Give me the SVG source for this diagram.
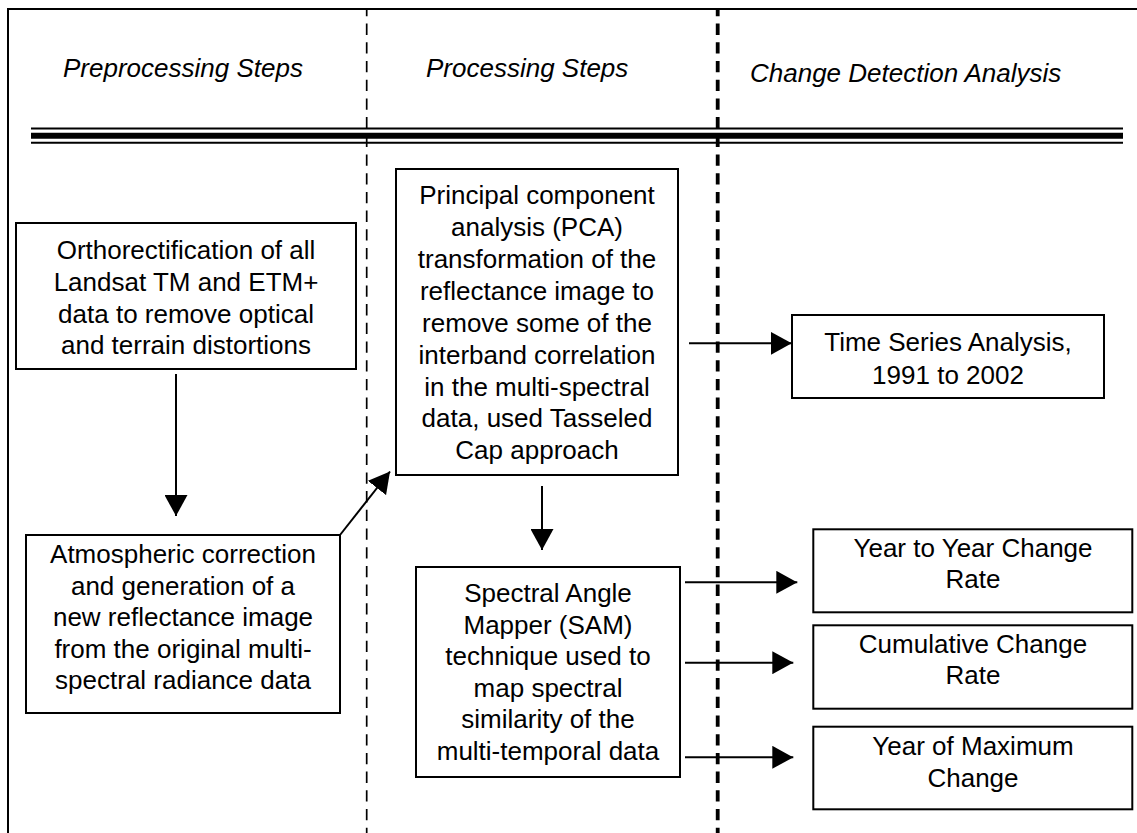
<svg xmlns="http://www.w3.org/2000/svg" width="1137" height="833" viewBox="0 0 1137 833">
<style>
.t{font-family:"Liberation Sans",Arial,sans-serif;font-size:26px;fill:#000;text-anchor:middle}
.h{font-family:"Liberation Sans",Arial,sans-serif;font-size:26px;font-style:italic;fill:#000}
.box{fill:#fff;stroke:#000;stroke-width:2}
.c{stroke:#000;stroke-width:2;fill:none;marker-end:url(#ah)}
.d{stroke-dasharray:11.3,7.4;stroke-dashoffset:4.1}
</style>
<defs>
<marker id="ah" markerUnits="userSpaceOnUse" markerWidth="21" markerHeight="23" refX="21" refY="11.5" orient="auto" viewBox="0 0 21 23">
<path d="M0,0 L21,11.5 L0,23 z" fill="#000"/>
</marker>
</defs>
<rect width="1137" height="833" fill="#fff"/>
<g id="frame" stroke="#000" fill="none">
<path d="M8,833 L8,9 L1137,9" stroke-width="2"/>
<line x1="31" y1="128.5" x2="1123" y2="128.5" stroke-width="2"/>
<line x1="31" y1="135.7" x2="1123" y2="135.7" stroke-width="6"/>
<line x1="31" y1="142.8" x2="1123" y2="142.8" stroke-width="2"/>
<line class="d" x1="366.7" y1="9" x2="366.7" y2="833" stroke-width="1.7"/>
<line class="d" x1="717.7" y1="9" x2="717.7" y2="833" stroke-width="3.8"/>
</g>
<g id="headers">
<text class="h" x="63" y="77">Preprocessing Steps</text>
<text class="h" x="426" y="77">Processing Steps</text>
<text class="h" x="750" y="81.5">Change Detection Analysis</text>
</g>
<g id="connectors">
<line class="c" x1="176" y1="374" x2="176" y2="516"/>
<line class="c" x1="340" y1="535" x2="390" y2="471.5"/>
<line class="c" x1="689" y1="343.3" x2="791.7" y2="343.3"/>
<line class="c" x1="542" y1="486" x2="542" y2="550"/>
<line class="c" x1="685" y1="582.3" x2="797.3" y2="582.3"/>
<line class="c" x1="685" y1="662.7" x2="793.3" y2="662.7"/>
<line class="c" x1="685" y1="757.3" x2="793.3" y2="757.3"/>
</g>
<g id="ortho">
<rect class="box" x="16" y="223" width="340" height="146"/>
<text class="t" x="186" y="259">Orthorectification of all</text>
<text class="t" x="186" y="291">Landsat TM and ETM+</text>
<text class="t" x="186" y="322.7">data to remove optical</text>
<text class="t" x="186" y="354">and terrain distortions</text>
</g>
<g id="atmos">
<rect class="box" x="26" y="535" width="314" height="178"/>
<text class="t" x="183" y="563.3">Atmospheric correction</text>
<text class="t" x="183" y="595">and generation of a</text>
<text class="t" x="183" y="626.3">new reflectance image</text>
<text class="t" x="183" y="657.5">from the original multi-</text>
<text class="t" x="183" y="688.5">spectral radiance data</text>
</g>
<g id="pca">
<rect class="box" x="396" y="169" width="282" height="306"/>
<text class="t" x="537" y="204">Principal component</text>
<text class="t" x="537" y="236">analysis (PCA)</text>
<text class="t" x="537" y="268">transformation of the</text>
<text class="t" x="537" y="300">reflectance image to</text>
<text class="t" x="537" y="332">remove some of the</text>
<text class="t" x="537" y="364">interband correlation</text>
<text class="t" x="537" y="395.5">in the multi-spectral</text>
<text class="t" x="537" y="427">data, used Tasseled</text>
<text class="t" x="537" y="459">Cap approach</text>
</g>
<g id="sam">
<rect class="box" x="416" y="567" width="264" height="210"/>
<text class="t" x="548" y="602.3">Spectral Angle</text>
<text class="t" x="548" y="633.6">Mapper (SAM)</text>
<text class="t" x="548" y="665">technique used to</text>
<text class="t" x="548" y="696.7">map spectral</text>
<text class="t" x="548" y="728.3">similarity of the</text>
<text class="t" x="548" y="760">multi-temporal data</text>
</g>
<g id="timeseries">
<rect class="box" x="792" y="315" width="312" height="83"/>
<text class="t" x="948" y="350.5">Time Series Analysis,</text>
<text class="t" x="948" y="383.8">1991 to 2002</text>
</g>
<g id="yeartoyear">
<rect class="box" x="813.3" y="529.3" width="319" height="83"/>
<text class="t" x="973" y="556.7">Year to Year Change</text>
<text class="t" x="973" y="588.3">Rate</text>
</g>
<g id="cumulative">
<rect class="box" x="813.3" y="625.3" width="319" height="83.4"/>
<text class="t" x="973" y="653.3">Cumulative Change</text>
<text class="t" x="973" y="683.5">Rate</text>
</g>
<g id="maxchange">
<rect class="box" x="813.3" y="726.7" width="319" height="82.6"/>
<text class="t" x="973" y="755">Year of Maximum</text>
<text class="t" x="973" y="786.7">Change</text>
</g>
</svg>
